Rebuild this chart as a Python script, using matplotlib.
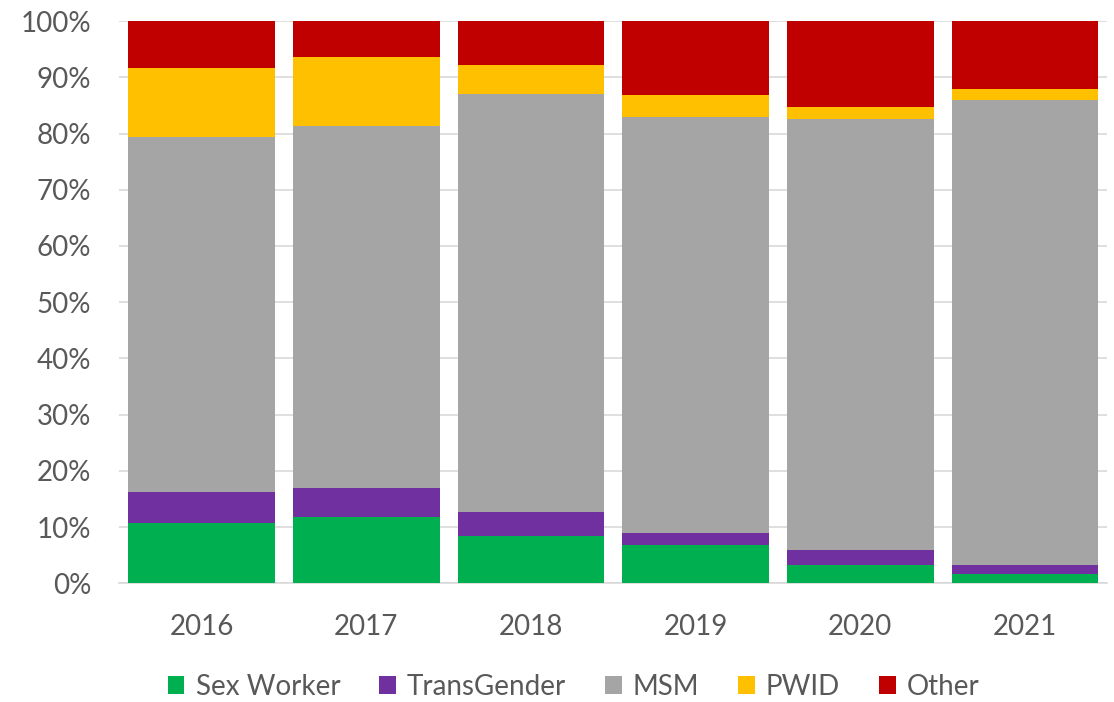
import numpy as np
import matplotlib.pyplot as plt
from matplotlib.patches import Patch
from matplotlib.ticker import PercentFormatter

# Data (percent share per year)
years = ["2016", "2017", "2018", "2019", "2020", "2021"]
sex_worker = [10.8, 11.8, 8.4, 6.8, 3.2, 1.7]
transgender = [5.5, 5.1, 4.3, 2.2, 2.8, 1.6]
msm = [63.1, 64.5, 74.4, 74.0, 76.6, 82.7]
pwid = [12.3, 12.2, 5.0, 3.8, 2.2, 1.9]
other = [8.3, 6.4, 7.9, 13.2, 15.2, 12.1]

series = [sex_worker, transgender, msm, pwid, other]
labels = ["Sex Worker", "TransGender", "MSM", "PWID", "Other"]
colors = ["#00B050", "#7030A0", "#A5A5A5", "#FFC000", "#C00000"]

plt.rcParams['font.family'] = ['Lato', 'DejaVu Sans']
text_col = "#595959"

fig = plt.figure(figsize=(11.14, 7.02), dpi=100)
ax = fig.add_axes([0.107, 0.169, 0.887, 0.801])

x = np.arange(len(years))
bottom = np.zeros(len(years))
for vals, col in zip(series, colors):
    ax.bar(x, vals, width=0.89, bottom=bottom, color=col, zorder=3)
    bottom += np.array(vals)

ax.set_xlim(-0.5, len(years) - 0.5)
ax.set_ylim(0, 100)
ax.set_yticks(np.arange(0, 101, 10))
ax.yaxis.set_major_formatter(PercentFormatter(decimals=0))
ax.set_xticks(x)
ax.set_xticklabels(years)
ax.grid(axis='y', color="#D9D9D9", linewidth=1.2, zorder=0)
for s in ["top", "right", "left"]:
    ax.spines[s].set_visible(False)
ax.spines["bottom"].set_color("#D9D9D9")
ax.spines["bottom"].set_linewidth(1.2)
ax.tick_params(axis='both', length=0, labelsize=20, colors=text_col)
ax.tick_params(axis='x', pad=22)
ax.tick_params(axis='y', pad=20)

handles = [Patch(facecolor=c, label=l) for c, l in zip(colors, labels)]
leg = fig.legend(handles=handles, loc='center', bbox_to_anchor=(0.515, 0.022), ncol=5,
                 frameon=False, fontsize=20, handlelength=0.6, handleheight=0.6,
                 handletextpad=0.4, columnspacing=1.4)
for t in leg.get_texts():
    t.set_color(text_col)

plt.savefig("out.png", dpi=100)
